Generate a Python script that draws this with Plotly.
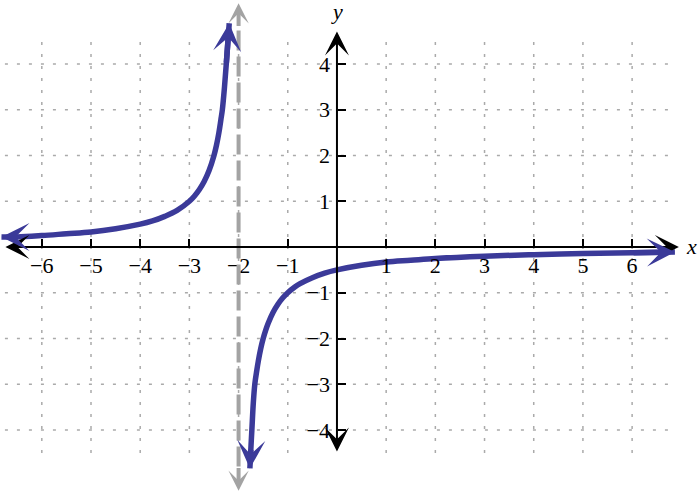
import plotly.graph_objects as go

# ---- data ----
x_tick_vals = [-6, -5, -4, -3, -2, -1, 1, 2, 3, 4, 5, 6]
x_tick_text = ["−6", "−5", "−4", "−3", "−2", "−1", "1", "2", "3", "4", "5", "6"]
y_tick_vals = [-4, -3, -2, -1, 1, 2, 3, 4]
y_tick_text = ["−4", "−3", "−2", "−1", "1", "2", "3", "4"]

left_x = [-6.82, -6.5, -6, -5.5, -5, -4.5, -4, -3.75, -3.5, -3.25, -3, -2.9, -2.8, -2.7, -2.6,
          -2.5, -2.45, -2.4, -2.36, -2.33, -2.29, -2.25, -2.19]
left_y = [0.22, 0.22, 0.25, 0.29, 0.33, 0.4, 0.5, 0.57, 0.67, 0.8, 1.0, 1.11, 1.25, 1.43, 1.67,
          2.0, 2.22, 2.5, 2.78, 3.0, 3.45, 4.0, 4.89]

right_x = [-1.77, -1.75, -1.73, -1.7, -1.67, -1.63, -1.6, -1.55, -1.5, -1.45, -1.4, -1.3, -1.2,
           -1.1, -1.0, -0.85, -0.75, -0.5, -0.25, 0, 0.5, 1, 1.5, 2, 3, 4, 5, 6, 6.87]
right_y = [-4.84, -4.4, -4.0, -3.4, -3.0, -2.7, -2.5, -2.22, -2.0, -1.82, -1.67, -1.43, -1.25,
           -1.11, -1.0, -0.87, -0.8, -0.67, -0.57, -0.5, -0.4, -0.33, -0.29, -0.25, -0.2,
           -0.167, -0.143, -0.125, -0.11]

asymptote_x = -2
x_axis_ends = [-6.77, 6.95]
y_axis_ends = [-4.5, 4.71]
asym_ends = [-5.33, 5.33]
grid_x_extent = [-6.75, 6.77]
grid_y_extent = [-4.5, 4.5]

X_RANGE = [-6.85, 7.38]
Y_RANGE = [-5.377, 5.399]

CURVE = "#3b3a99"
GRAY = "#a3a3a3"
GRID = "#aaaaaa"
FONT = "Liberation Serif, Times New Roman, DejaVu Serif, serif"

fig = go.Figure()

for bx, by in [(left_x, left_y), (right_x, right_y)]:
    fig.add_trace(go.Scatter(x=bx, y=by, mode="lines",
                             line=dict(color=CURVE, width=5.5, shape="spline", smoothing=1.0),
                             hoverinfo="skip", showlegend=False))

shapes = []
for xv in x_tick_vals:
    shapes.append(dict(type="line", xref="x", yref="y", x0=xv, x1=xv,
                       y0=grid_y_extent[0], y1=grid_y_extent[1], layer="below",
                       line=dict(color=GRID, width=1.5, dash="3px,9px")))
for yv in y_tick_vals:
    shapes.append(dict(type="line", xref="x", yref="y", y0=yv, y1=yv,
                       x0=grid_x_extent[0], x1=grid_x_extent[1], layer="below",
                       line=dict(color=GRID, width=1.5, dash="3px,9px")))
shapes.append(dict(type="line", xref="x", yref="y", x0=asymptote_x, x1=asymptote_x,
                   y0=-4.8, y1=4.8, layer="above",
                   line=dict(color=GRAY, width=4, dash="20px,6px")))

annotations = []
annotations.append(dict(x=x_axis_ends[1], y=0, ax=x_axis_ends[0], ay=0, xref="x", yref="y",
                        axref="x", ayref="y", text="", showarrow=True, arrowside="end+start",
                        arrowhead=3, startarrowhead=3, arrowsize=2.0, startarrowsize=2.0,
                        arrowwidth=2, arrowcolor="black"))
annotations.append(dict(x=0, y=y_axis_ends[1], ax=0, ay=y_axis_ends[0], xref="x", yref="y",
                        axref="x", ayref="y", text="", showarrow=True, arrowside="end+start",
                        arrowhead=3, startarrowhead=3, arrowsize=2.0, startarrowsize=2.0,
                        arrowwidth=2, arrowcolor="black"))
for tip, tail in [(asym_ends[1], 4.8), (asym_ends[0], -4.8)]:
    annotations.append(dict(x=asymptote_x, y=tip, ax=asymptote_x, ay=tail, xref="x", yref="y",
                            axref="x", ayref="y", text="", showarrow=True, arrowhead=3,
                            arrowsize=0.85, arrowwidth=4, arrowcolor=GRAY))
for bx, by in [(left_x, left_y), (right_x, right_y)]:
    for tip_i, tail_i in [(0, 1), (-1, -2)]:
        annotations.append(dict(x=bx[tip_i], y=by[tip_i], ax=bx[tail_i], ay=by[tail_i],
                                xref="x", yref="y", axref="x", ayref="y", text="",
                                showarrow=True, arrowhead=3, arrowsize=0.85, arrowwidth=5.5,
                                arrowcolor=CURVE))
annotations.append(dict(x=7.2, y=0.02, xref="x", yref="y", text="<i>x</i>", showarrow=False,
                        font=dict(family=FONT, size=22, color="black")))
annotations.append(dict(x=0, y=5.14, xref="x", yref="y", text="<i>y</i>", showarrow=False,
                        font=dict(family=FONT, size=22, color="black")))

x_pos = (0 - Y_RANGE[0]) / (Y_RANGE[1] - Y_RANGE[0])
y_pos = (0 - X_RANGE[0]) / (X_RANGE[1] - X_RANGE[0])

fig.update_layout(
    width=700, height=493,
    margin=dict(l=0, r=0, t=0, b=0),
    plot_bgcolor="white", paper_bgcolor="white",
    font=dict(family=FONT),
    shapes=shapes, annotations=annotations,
    xaxis=dict(range=X_RANGE, showgrid=False, zeroline=False, showline=False,
               anchor="free", position=x_pos, ticks="inside", ticklen=8, tickwidth=2,
               tickcolor="black", tickvals=x_tick_vals, ticktext=x_tick_text,
               ticklabelstandoff=3,
               tickfont=dict(family=FONT, size=22, color="black"), fixedrange=True),
    yaxis=dict(range=Y_RANGE, showgrid=False, zeroline=False, showline=False,
               anchor="free", position=y_pos, ticks="inside", ticklen=8, tickwidth=2,
               tickcolor="black", tickvals=y_tick_vals, ticktext=y_tick_text,
               ticklabelstandoff=7,
               tickfont=dict(family=FONT, size=22, color="black"), fixedrange=True),
)

fig.write_html("out.html", config={"displayModeBar": False},
               post_script="document.body.style.margin='0';document.body.style.padding='0';")
